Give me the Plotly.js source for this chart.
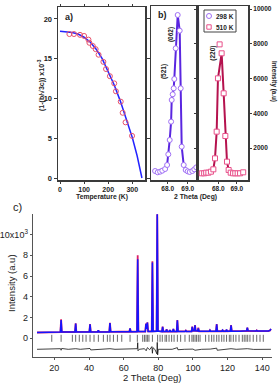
<!DOCTYPE html>
<html><head><meta charset="utf-8">
<script src="https://cdn.plot.ly/plotly-3.0.1.min.js"></script>
<style>html,body{margin:0;padding:0;background:#fff;}#chart{width:279px;height:385px;}</style>
</head><body><div id="chart"></div>
<script>
// ---------- Panel a: distortion vs temperature ----------
const tempObs = [39, 58, 83, 100, 118, 122, 136, 148, 160, 180, 191, 207, 225, 232, 252, 260, 272, 299];
const distObs = [18.1, 18.1, 18.0, 17.86, 17.4, 17.0, 16.6, 16.2, 15.5, 14.6, 13.7, 12.8, 11.9, 10.9, 9.6, 8.2, 7.0, 5.3];
const tempFit = [0, 25, 50, 75, 100, 125, 150, 175, 200, 225, 250, 275, 300, 320, 340];
const distFit = [18.45, 18.4, 18.3, 18.1, 17.7, 17.1, 16.2, 15.0, 13.4, 11.7, 9.7, 7.4, 5.1, 2.8, 0];

// ---------- Panel b: peak profiles ----------
const theta298 = [67.37, 67.50, 67.62, 67.73, 67.87, 67.97, 68.03, 68.10, 68.17, 68.20, 68.25, 68.30, 68.33, 68.40, 68.50, 68.60, 68.65, 68.70, 68.80, 68.90, 69.00, 69.10, 69.23, 69.33, 69.43];
const int298 = [676, 600, 637, 695, 791, 1022, 1636, 2460, 3515, 4763, 5090, 5434, 5971, 7737, 9655, 8753, 5434, 2076, 1022, 734, 657, 618, 676, 772, 887];
const theta510 = [67.10, 67.23, 67.34, 67.46, 67.60, 67.73, 67.82, 67.91, 67.98, 68.07, 68.18, 68.29, 68.38, 68.47, 68.56, 68.67, 68.80, 68.92, 69.05, 69.18, 69.35];
const int510 = [543, 543, 580, 580, 637, 772, 1405, 2940, 6010, 7965, 7450, 5146, 2691, 1214, 734, 580, 543, 543, 543, 543, 600];
const bTicks = [68, 69];
const bTickText = ['68.0', '69.0'];
const bIntTicks = [2000, 4000, 6000, 8000, 10000];
const bIntTickText = ['2000', '4000', '6000', '8000', '10000'];

// ---------- Panel c: full pattern ----------
const patTheta = [10, 15, 20, 23.5, 23.9, 24.3, 28, 31.9, 32.3, 32.7,
  36, 40.2, 40.6, 41.0, 45.0, 45.4, 45.8, 48, 51.7, 52.1,
  52.5, 57, 63.3, 63.7, 64.1, 67.7, 68.1, 68.5, 70, 72.5,
  72.9, 73.3, 73.7, 74.1, 76.2, 76.6, 77.0, 79.0, 79.4, 79.8,
  82.1, 82.5, 82.9, 84.4, 84.8, 85.2, 86.3, 86.7, 87.1, 88.3,
  88.7, 89.1, 90.6, 91.0, 91.4, 95.5, 95.9, 96.3, 99.2, 99.6,
  100.0, 100.8, 101.2, 101.6, 102.7, 103.1, 103.5, 109.4, 109.8, 110.2,
  113.3, 113.7, 114.1, 116.7, 117.1, 117.5, 119.0, 119.4, 119.8, 121.6,
  122.0, 122.4, 127, 131.0, 131.4, 131.8, 136.4, 136.8, 137.2, 141,
  143.5, 144.5, 145];
const patCalc = [560, 575, 590, 600, 1760, 610, 610, 610, 1430, 615,
  615, 620, 1350, 620, 620, 780, 620, 620, 620, 1480,
  625, 630, 630, 950, 635, 640, 7620, 650, 650, 650,
  1400, 900, 1520, 660, 660, 7300, 670, 680, 12100, 700,
  650, 1110, 660, 650, 850, 650, 650, 800, 650, 650,
  900, 650, 650, 1740, 660, 660, 740, 660, 660, 1100,
  720, 720, 1250, 720, 700, 950, 680, 670, 780, 670,
  680, 1360, 680, 680, 780, 680, 680, 850, 680, 690,
  1260, 690, 690, 720, 1020, 720, 700, 760, 700, 690,
  700, 760, 900];
const patObs = [560, 580, 585, 600, 1830, 615, 610, 610, 1440, 620,
  615, 620, 1375, 620, 620, 770, 620, 625, 620, 1500,
  625, 630, 630, 960, 635, 640, 8010, 650, 650, 650,
  1420, 900, 1540, 660, 660, 7430, 670, 680, 12100, 700,
  650, 1120, 660, 650, 870, 650, 650, 800, 650, 650,
  900, 650, 650, 1760, 660, 660, 750, 660, 660, 1120,
  720, 720, 1280, 720, 700, 1020, 680, 670, 780, 670,
  680, 1375, 680, 680, 800, 680, 680, 800, 680, 690,
  1280, 690, 690, 720, 1020, 720, 700, 770, 700, 690,
  700, 760, 900];
const diffTheta = [10, 15, 20, 23.6, 23.9, 24.2, 28, 32.3, 35, 40.6, 41, 45, 52.1, 55, 60, 63.7, 66, 67.9, 68.1, 68.3, 69, 72, 73, 73.7, 75, 76.3, 76.6, 76.9, 78, 79.2, 79.4, 79.6, 80, 84, 88, 91, 91.3, 95, 100, 101.2, 105, 110, 113.7, 114, 118, 122, 125, 131.4, 135, 140, 145];
const diffI = [-1060, -1040, -1060, -1000, -1150, -980, -1060, -1000, -1060, -980, -1120, -1060, -1000, -1060, -1040, -1000, -1060, -1000, -420, -1200, -1060, -1000, -1200, -900, -1100, -800, -1440, -900, -1060, -1500, -390, -1600, -1060, -1040, -1060, -900, -1100, -1060, -1040, -1150, -1060, -1040, -950, -1150, -1060, -1000, -1060, -1000, -1070, -1050, -1060];
const braggPos = [18.5, 23.9, 30.4, 32.3, 34.4, 36.4, 38.3, 40.6, 42.9, 45.4, 48.3, 50.6, 52.1, 54.1, 56.4, 58.9, 63.7, 67.9, 71.0, 72.0, 72.9, 73.7, 74.6, 76.6, 79.6, 81.0, 82.3, 83.9, 84.8, 86.2, 87.7, 89.1, 91.0, 92.9, 95.4, 97.9, 99.4, 100.2, 101.2, 102.1, 103.1, 104.1, 107.3, 109.2, 110.8, 112.1, 113.7, 115.0, 116.6, 117.9, 119.4, 121.0, 121.9, 123.3, 124.8, 126.6, 128.5, 129.6, 130.6, 131.6, 132.9, 134.8, 136.8, 138.7, 140.6];
const cXTicks = [20, 40, 60, 80, 100, 120, 140];
const cYTicks = [0, 2000, 4000, 6000, 8000, 10000];
const cYTickText = ['0', '2', '4', '6', '8', '10x10<sup>3</sup>'];

// ---------- helpers ----------
const W = 279, H = 385;
const px = x => x / W;
const py = y => 1 - y / H;
const FONT = 'Liberation Sans, Arial, sans-serif';
const boldFont = s => ({family: FONT, size: s, color: '#222', weight: 'bold'});
const regFont = s => ({family: FONT, size: s, color: '#222'});
const note = (text, x, y, font, extra) => Object.assign({text, x: px(x), y: py(y), xref: 'paper', yref: 'paper',
  xanchor: 'center', yanchor: 'middle', showarrow: false, font}, extra || {});

const imax510 = int510.indexOf(Math.max(...int510));
const line510x = theta510.filter((_, i) => i !== imax510);
const line510y = int510.filter((_, i) => i !== imax510);

const traces = [
  // panel a
  {x: tempFit, y: distFit, xaxis: 'x', yaxis: 'y', mode: 'lines', line: {color: '#2323ff', width: 1.5}},
  {x: tempObs, y: distObs, xaxis: 'x', yaxis: 'y', mode: 'markers', marker: {symbol: 'circle-open', size: 5, color: '#e8506a', line: {width: 1}}},
  // panel b left (298 K)
  {x: theta298, y: int298, xaxis: 'x2', yaxis: 'y2', mode: 'lines+markers', line: {color: '#5a26e0', width: 2},
   marker: {symbol: 'circle', size: 5, color: '#ffffff', line: {color: '#a070f5', width: 1}}},
  // panel b right (510 K)
  {x: line510x, y: line510y, xaxis: 'x3', yaxis: 'y3', mode: 'lines', line: {color: '#b5124e', width: 2}},
  {x: theta510, y: int510, xaxis: 'x3', yaxis: 'y3', mode: 'markers',
   marker: {symbol: 'square', size: 5, color: '#ffffff', line: {color: '#e8508a', width: 1}}},
  // panel c
  {x: patTheta, y: patObs, xaxis: 'x4', yaxis: 'y4', mode: 'lines', line: {color: '#dc1f66', width: 1.8}},
  {x: patTheta, y: patCalc, xaxis: 'x4', yaxis: 'y4', mode: 'lines', line: {color: '#1414ff', width: 1.5}},
  {x: braggPos, y: braggPos.map(() => 0), xaxis: 'x4', yaxis: 'y4', mode: 'markers',
   marker: {symbol: 'line-ns', size: 5, line: {color: '#444', width: 0.8}}},
  {x: diffTheta, y: diffI, xaxis: 'x4', yaxis: 'y4', mode: 'lines', line: {color: '#111', width: 0.8}}
];

const frameA = {showline: true, linecolor: '#3a3a3a', linewidth: 1.5, showgrid: false, zeroline: false, mirror: 'ticks',
  ticks: 'outside', ticklen: 3, tickwidth: 1, tickcolor: '#3a3a3a'};
const frameC = {showline: true, linecolor: '#555', linewidth: 1, showgrid: false, zeroline: false,
  ticks: 'outside', ticklen: 2, tickwidth: 1, tickcolor: '#555'};

const layout = {
  width: W, height: H, margin: {l: 0, r: 0, t: 0, b: 0}, showlegend: false,
  paper_bgcolor: '#fff', plot_bgcolor: 'rgba(0,0,0,0)', font: {family: FONT},
  xaxis: Object.assign({}, frameA, {domain: [px(58), px(145)], range: [-8.3, 352.7], tickvals: [0, 100, 200, 300],
    tickfont: boldFont(7), ticklen: 2, anchor: 'y'}),
  yaxis: Object.assign({}, frameA, {domain: [py(180), py(7)], range: [-0.25, 21.5], tickvals: [0, 5, 10, 15, 20],
    tickfont: boldFont(7.5), anchor: 'x'}),
  xaxis2: Object.assign({}, frameA, {domain: [px(151), px(197.5)], range: [67.165, 69.49], tickvals: bTicks,
    ticktext: bTickText, tickfont: boldFont(6.5), ticklen: 2, mirror: true, anchor: 'y2'}),
  yaxis2: Object.assign({}, frameA, {domain: [py(180), py(6)], range: [158, 10173], ticks: '', showticklabels: false,
    mirror: true, anchor: 'x2'}),
  xaxis3: Object.assign({}, frameA, {domain: [px(197.5), px(248)], range: [66.87, 69.61], tickvals: bTicks,
    ticktext: bTickText, tickfont: boldFont(6.5), ticklen: 2, mirror: true, anchor: 'y3'}),
  yaxis3: Object.assign({}, frameA, {domain: [py(180), py(6)], range: [158, 10173], side: 'right', tickvals: bIntTicks,
    ticktext: bIntTickText, tickfont: boldFont(6.5), ticklen: 2.5, anchor: 'x3'}),
  xaxis4: Object.assign({}, frameC, {domain: [px(32.7), px(272.3)], range: [7.5, 145.8], tickvals: cXTicks,
    tickfont: regFont(9), anchor: 'y4'}),
  yaxis4: Object.assign({}, frameC, {domain: [py(357.3), py(214.3)], range: [-1830, 11950], tickvals: cYTicks,
    ticktext: cYTickText, tickfont: regFont(9), anchor: 'x4'}),
  xaxis5: Object.assign({}, frameC, {overlaying: 'x4', anchor: 'y4', side: 'top', range: [7.5, 145.8], tickvals: cXTicks,
    ticks: 'inside', ticklen: 3, showticklabels: false}),
  yaxis5: Object.assign({}, frameC, {overlaying: 'y4', anchor: 'x4', side: 'right', range: [-1830, 11950], tickvals: cYTicks,
    ticks: 'inside', ticklen: 3, showticklabels: false}),
  shapes: [
    {type: 'rect', xref: 'paper', yref: 'paper', x0: px(204), x1: px(236), y0: py(32), y1: py(10),
     line: {color: '#444', width: 1}, fillcolor: '#fff'},
    {type: 'circle', xref: 'paper', yref: 'paper', x0: px(206.5), x1: px(211.5), y0: py(18.5), y1: py(13.5),
     line: {color: '#a070f5', width: 1}},
    {type: 'rect', xref: 'paper', yref: 'paper', x0: px(206.8), x1: px(211.2), y0: py(29.2), y1: py(24.8),
     line: {color: '#e8508a', width: 1}}
  ],
  annotations: [
    note('<b>a)</b>', 69, 17, regFont(9)),
    note('<b>b)</b>', 162, 15, regFont(9)),
    note('c)', 17, 207, regFont(11)),
    note('(1-(b/\u221a3c)) x10<sup>-3</sup>', 42, 85, boldFont(7), {textangle: -90}),
    note('Temperature (K)', 101.5, 196.5, boldFont(6.8)),
    note('2 Theta (Deg)', 195, 196.5, boldFont(6.8)),
    note('Intensity (a.u)', 274, 81, boldFont(6.3), {textangle: 90}),
    note('298 K', 214, 16, boldFont(6.5), {xanchor: 'left'}),
    note('510 K', 214, 27, boldFont(6.5), {xanchor: 'left'}),
    {text: '(062)', x: 68.165, y: 8500, xref: 'x2', yref: 'y2', xanchor: 'center', yanchor: 'middle', showarrow: false, textangle: -90, font: boldFont(6.5)},
    {text: '(521)', x: 67.815, y: 6370, xref: 'x2', yref: 'y2', xanchor: 'center', yanchor: 'middle', showarrow: false, textangle: -90, font: boldFont(6.5)},
    {text: '(220)', x: 67.73, y: 7450, xref: 'x3', yref: 'y3', xanchor: 'center', yanchor: 'middle', showarrow: false, textangle: -90, font: boldFont(6.5)},
    note('Intensity (a.u)', 11, 283, regFont(9.5), {textangle: -90}),
    note('2 Theta (Deg)', 152, 377.5, regFont(9.5))
  ]
};

Plotly.newPlot('chart', traces, layout, {staticPlot: true, displayModeBar: false});
</script>
</body></html>
